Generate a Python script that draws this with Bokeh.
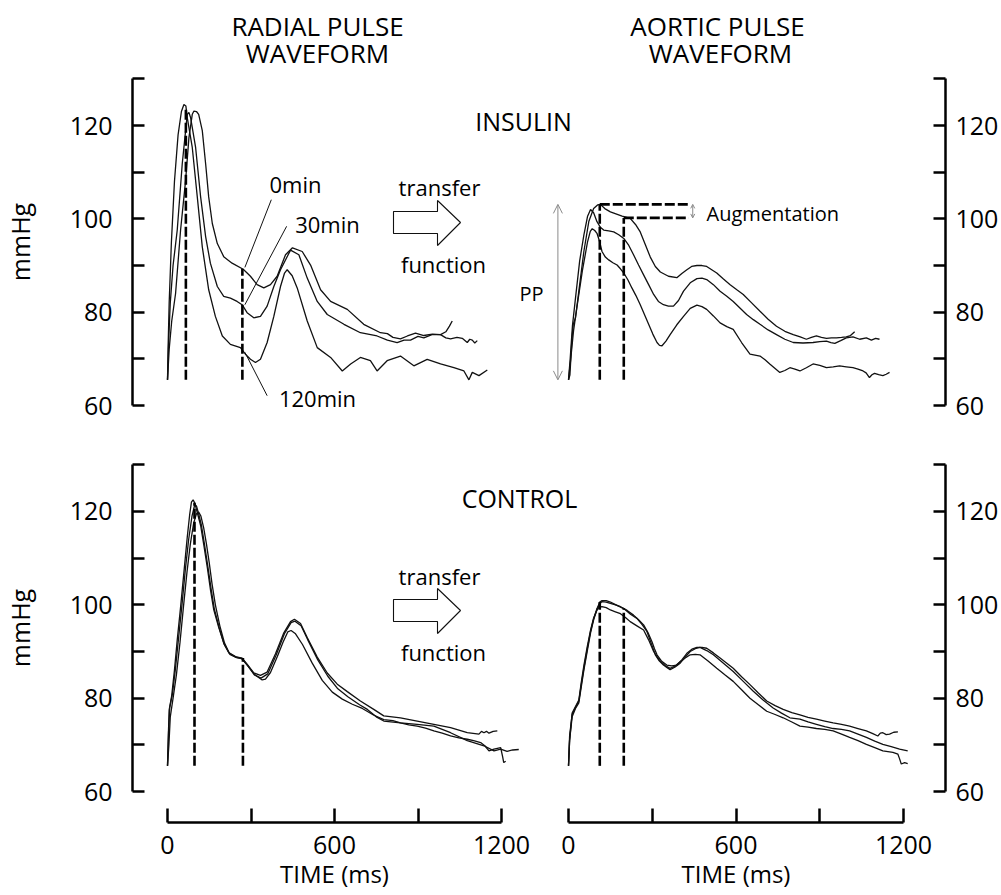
from bokeh.plotting import figure
from bokeh.models import Range1d, LinearAxis, FixedTicker, Arrow, OpenHead
from bokeh.core.properties import value
from bokeh.embed import file_html
from bokeh.resources import INLINE

# ---------------- data: time (ms) / pressure (mmHg) ----------------
# INSULIN, radial pulse waveform
INS_RAD_T_0 = [0, 6, 15, 29, 47, 65, 77, 89, 95, 104, 112, 125, 137, 148, 161, 179, 202, 232, 272, 298,
               322, 346, 370, 394, 424, 449, 484, 514, 550, 586, 646, 705, 765, 790, 810, 837, 862, 891, 921, 952,
               981, 1000, 1013, 1023]
INS_RAD_P_0 = [65.5, 72, 78, 84, 97.6, 108.2, 117.4, 122.4, 123.1, 123.0, 122.4, 118.9, 111.8, 104.7, 99.0, 94.7, 91.9, 90.5, 89.2, 87.7,
               85.9, 85.2, 85.9, 87.7, 92.3, 93.8, 93.0, 90.1, 84.8, 82.3, 80.6, 77.4, 75.6, 75.4, 74.6, 74.3, 74.9, 75.5, 75.0, 75.3,
               75.2, 75.8, 77.0, 78.1]
INS_RAD_T_30 = [0, 5, 10, 20, 35, 53, 71, 77, 83, 101, 119, 137, 154, 179, 202, 226, 250, 268, 286, 310,
                334, 358, 382, 406, 442, 472, 502, 538, 574, 634, 693, 753, 790, 825, 850, 873, 900, 921, 950, 981,
                1000, 1017, 1040, 1059, 1077, 1086, 1095, 1104, 1113]
INS_RAD_P_30 = [65.5, 75, 82, 90, 97.6, 111.8, 122.4, 122.8, 121.7, 115.3, 104.7, 96.2, 90.5, 85.5, 83.4, 83.0, 82.3, 81.6, 79.9, 78.8,
                79.1, 81.3, 85.5, 89.1, 93.3, 92.3, 87.3, 82.3, 79.5, 77.4, 75.6, 74.9, 74.0, 73.5, 74.0, 74.0, 74.8, 74.5, 75.2, 75.2,
                74.5, 74.3, 74.6, 74.4, 73.5, 74.2, 74.0, 73.4, 73.9]
INS_RAD_T_120 = [0, 2, 6, 14, 25, 38, 50, 59, 66, 71, 89, 107, 125, 148, 172, 197, 226, 262, 280, 298,
                 316, 334, 358, 382, 406, 420, 430, 448, 466, 502, 538, 586, 628, 658, 693, 729, 753, 789, 837, 885,
                 933, 981, 1029, 1065, 1083, 1095, 1119, 1149]
INS_RAD_P_120 = [65.5, 72, 82, 95, 108, 118, 123, 124.5, 124.2, 121.7, 115.3, 104.7, 94.0, 84.8, 79.1, 74.9, 73.1, 72.4, 71.0, 69.9,
                 69.2, 69.9, 73.5, 79.1, 85.5, 88.3, 89.1, 87.8, 85.2, 78.1, 72.4, 70.3, 67.4, 68.9, 70.3, 69.6, 67.4, 69.6, 70.6, 68.5,
                 69.9, 68.9, 68.1, 67.4, 65.5, 67.1, 66.4, 67.6]

# INSULIN, aortic pulse waveform
INS_AOR_T_0 = [0, 5, 12, 17, 25, 37, 55, 73, 90, 105, 114, 130, 150, 192, 221, 240, 257, 275, 293, 311,
               329, 358, 388, 406, 424, 441, 460, 478, 495, 513, 531, 555, 579, 603, 626, 656, 686, 715, 745, 775,
               805, 830, 852, 870, 888, 906, 924, 942, 960, 978, 995, 1010, 1025]
INS_AOR_P_0 = [65.5, 66.5, 74, 77.4, 78.8, 84.5, 93.0, 99.5, 102.2, 103.0, 103.1, 102.2, 101.5, 100.6, 100.1, 98.8, 97.2, 94.5, 91.8, 89.8,
               88.6, 87.7, 87.4, 88.3, 89.1, 89.8, 90.0, 90.0, 89.8, 89.1, 88.4, 87.1, 85.9, 84.8, 83.8, 82.0, 80.2, 78.5, 77.0, 75.9,
               75.2, 74.7, 74.2, 74.6, 74.9, 74.6, 74.4, 74.5, 74.5, 74.6, 74.7, 75.0, 75.8]
INS_AOR_T_30 = [0, 6, 14, 25, 40, 55, 68, 79, 90, 102, 114, 126, 144, 162, 180, 198, 216, 233, 251, 269,
                287, 305, 322, 340, 358, 376, 394, 412, 436, 460, 478, 495, 519, 543, 567, 590, 614, 638, 662, 686,
                715, 745, 775, 805, 840, 876, 900, 924, 940, 954, 975, 995, 1019, 1043, 1067, 1085, 1100, 1114]
INS_AOR_P_30 = [65.5, 70, 77, 83, 91, 96.5, 100.5, 102.0, 101.3, 99.4, 98.2, 97.6, 97.4, 97.2, 96.6, 95.8, 94.3, 92.3, 90.1, 88.0,
                85.9, 83.8, 82.3, 81.6, 81.3, 81.3, 82.5, 84.5, 86.3, 87.2, 87.3, 87.0, 85.9, 84.5, 83.4, 82.3, 80.9, 79.5, 78.4, 77.4,
                76.2, 75.2, 74.2, 73.5, 73.4, 73.5, 73.7, 73.8, 73.5, 73.3, 73.9, 74.5, 74.7, 74.2, 74.5, 74.0, 74.4, 74.2]
INS_AOR_T_120 = [0, 8, 18, 30, 50, 68, 78, 85, 94, 102, 111, 120, 132, 144, 159, 174, 186, 198, 213, 227,
                 242, 257, 272, 287, 302, 317, 326, 335, 349, 364, 388, 412, 436, 460, 478, 495, 519, 543, 567, 590,
                 620, 650, 686, 704, 721, 739, 757, 775, 793, 811, 829, 852, 876, 900, 924, 948, 971, 995, 1019, 1037,
                 1055, 1066, 1078, 1087, 1096, 1111, 1126, 1138, 1150]
INS_AOR_P_120 = [65.5, 70, 76, 81, 89, 95, 97.3, 97.9, 97.5, 96.9, 95.2, 93.0, 91.8, 91.2, 90.6, 90.1, 89.3, 88.4, 86.9, 85.2,
                 83.5, 81.6, 79.5, 77.4, 75.3, 73.5, 72.9, 72.8, 73.8, 75.2, 77.3, 79.1, 80.8, 81.5, 81.2, 80.6, 79.2, 77.7, 76.9, 76.3,
                 73.5, 71.0, 70.6, 69.8, 68.9, 68.0, 67.1, 67.5, 68.1, 67.8, 67.4, 68.1, 68.9, 68.6, 68.1, 68.3, 68.5, 68.3, 68.1, 67.8,
                 67.4, 67.0, 66.0, 66.6, 66.9, 66.6, 66.4, 66.7, 67.1]

# CONTROL, radial pulse waveform
CTL_RAD_T_A = [0, 3, 6, 15, 25, 35, 47, 59, 71, 80, 86, 92, 98, 106, 119, 130, 143, 155, 166, 184,
               202, 220, 244, 268, 286, 310, 334, 358, 388, 418, 442, 456, 478, 502, 538, 574, 610, 646, 693, 741,
               777, 837, 897, 957, 1017, 1077, 1119, 1128, 1137, 1146, 1155, 1170, 1185]
CTL_RAD_P_A = [65.5, 72, 77.5, 80.5, 86, 92.5, 99.5, 107, 114.5, 119.5, 122, 122.5, 121.8, 120, 117, 113, 108, 103, 99, 95.2,
               91.8, 89.8, 88.9, 88.6, 87.3, 85.4, 84.9, 85.6, 89.5, 94, 96.4, 96.9, 96.0, 93.0, 88.8, 85.4, 83.0, 81.4, 79.4, 77.6,
               76.2, 75.8, 75.1, 74.4, 73.7, 72.6, 72.3, 72.9, 72.6, 72.9, 72.5, 72.9, 73.0]
CTL_RAD_T_B = [0, 4, 8, 18, 28, 40, 52, 64, 76, 88, 98, 104, 112, 122, 132, 145, 157, 168, 186, 204,
               222, 246, 268, 288, 312, 336, 360, 390, 420, 444, 458, 480, 504, 540, 576, 612, 648, 690, 718, 750,
               777, 837, 897, 957, 1017, 1077, 1137, 1173, 1197, 1220, 1240, 1262]
CTL_RAD_P_B = [65.5, 73, 78, 81, 86, 93, 100, 107.5, 114, 119, 121.5, 121.2, 119.5, 117, 113.3, 108.2, 103.3, 99.2, 95.0, 91.5,
               89.6, 88.8, 88.4, 87.0, 85.0, 84.3, 85.2, 89.2, 93.8, 96.2, 96.5, 95.5, 92.5, 88.2, 84.7, 82.0, 80.3, 78.6, 77.6, 76.0,
               75.1, 74.7, 74.4, 74.0, 72.6, 70.9, 69.8, 68.7, 69.1, 68.6, 68.9, 69.0]
CTL_RAD_T_C = [0, 5, 10, 20, 32, 45, 58, 70, 82, 94, 104, 112, 120, 130, 140, 150, 160, 172, 188, 205,
               224, 248, 268, 290, 314, 340, 352, 370, 395, 415, 432, 444, 460, 485, 520, 556, 592, 628, 664, 700,
               740, 777, 810, 837, 867, 897, 927, 957, 987, 1017, 1047, 1077, 1100, 1125, 1140, 1155, 1173, 1197, 1204, 1208,
               1215]
CTL_RAD_P_C = [65.5, 70, 76, 80, 85, 92, 100, 107, 113, 117.5, 119.5, 119.9, 119, 116.5, 113, 109, 104.5, 100, 95.5, 91.8,
               89.4, 88.7, 88.5, 86.8, 85.0, 83.9, 84.1, 85.5, 89.0, 92.0, 94.2, 94.5, 93.8, 91.5, 87.5, 83.8, 81.3, 79.8, 78.7, 77.8,
               76.4, 75.4, 75.2, 74.7, 74.3, 74.0, 73.6, 73.0, 72.5, 71.9, 71.5, 71.2, 70.9, 70.5, 69.8, 68.7, 69.1, 69.4, 67.5, 66.2,
               66.5]

# CONTROL, aortic pulse waveform
CTL_AOR_T_A = [0, 4, 13, 25, 37, 46, 55, 67, 79, 90, 102, 111, 120, 135, 150, 168, 186, 210, 233, 251,
               269, 285, 299, 308, 317, 334, 352, 370, 388, 406, 424, 442, 460, 478, 495, 519, 543, 567, 590, 620,
               650, 680, 710, 740, 769, 800, 829, 858, 888, 918, 948, 978, 1007, 1037, 1067, 1090, 1108, 1117, 1126, 1138,
               1150, 1165, 1180]
CTL_AOR_P_A = [65.5, 72, 76.5, 78, 79.4, 83, 86.4, 90.5, 94.3, 97, 99.2, 100.2, 100.7, 100.6, 100.3, 100.0, 99.6, 98.8, 97.8, 96.8,
               95.7, 94.0, 92.1, 90.6, 89.3, 87.9, 87.1, 86.9, 87.1, 88.2, 89.6, 90.5, 90.9, 90.9, 90.7, 89.7, 88.6, 87.5, 86.4, 84.6,
               82.9, 81.1, 79.4, 78.4, 77.6, 76.9, 76.4, 75.9, 75.5, 75.1, 74.7, 74.4, 74.0, 73.5, 73.0, 72.4, 71.9, 72.5, 72.6, 72.2,
               72.3, 72.7, 72.8]
CTL_AOR_T_B = [0, 4, 13, 25, 37, 46, 55, 67, 79, 90, 102, 112, 120, 135, 150, 174, 198, 222, 245, 263,
               281, 296, 311, 325, 340, 352, 364, 382, 400, 418, 436, 454, 471, 495, 519, 555, 590, 626, 662, 697,
               733, 763, 793, 829, 858, 888, 918, 948, 978, 1007, 1037, 1067, 1097, 1126, 1156, 1186, 1215]
CTL_AOR_P_B = [65.5, 71, 76, 77.8, 79, 82.5, 86, 90, 94, 96.8, 99, 100.6, 100.9, 100.9, 100.6, 99.9, 99.2, 98, 97.1, 95.8,
               94.3, 91.8, 89.3, 88.0, 87.1, 86.6, 86.1, 86.7, 87.5, 88.8, 90.0, 90.6, 90.9, 90.2, 89.3, 87.5, 85.7, 83.6, 81.5, 79.6,
               77.9, 76.8, 75.8, 75.5, 74.9, 74.4, 73.9, 73.5, 73.3, 73.0, 72.3, 71.6, 70.8, 70.1, 69.6, 69.1, 68.7]
CTL_AOR_T_C = [0, 4, 13, 25, 37, 46, 55, 67, 79, 90, 102, 110, 120, 135, 150, 168, 186, 204, 221, 245,
               269, 287, 305, 317, 329, 346, 364, 382, 400, 418, 436, 454, 471, 501, 531, 560, 590, 620, 650, 680,
               710, 740, 769, 800, 829, 858, 888, 918, 948, 978, 1007, 1037, 1067, 1097, 1126, 1162, 1180, 1186, 1192, 1204,
               1215]
CTL_AOR_P_C = [65.5, 71, 76.8, 78.2, 79.6, 83.5, 87, 91, 94.6, 97.2, 98.9, 99.5, 99.6, 99.4, 98.9, 98.5, 98.1, 97.3, 96.4, 95.5,
               94.6, 92.5, 90.0, 88.9, 87.9, 87.0, 86.4, 86.9, 87.8, 88.6, 89.3, 89.4, 89.3, 87.9, 86.4, 85.0, 83.6, 81.8, 80.0, 78.6,
               77.2, 76.5, 75.8, 74.9, 74.0, 73.8, 73.5, 73.3, 73.0, 72.3, 71.6, 70.9, 70.1, 69.4, 68.7, 68.4, 68.0, 67.0, 65.9, 66.2,
               66.0]

# dashed markers (time ms, top mmHg), all start at the diastolic foot
FOOT = 65.5
INS_RAD_DASH_T = [66, 269]
INS_RAD_DASH_P = [123.5, 89.3]
INS_AOR_DASH_T = [112, 198]
INS_AOR_DASH_P = [103.1, 100.2]
AUG_END_T = 431
CTL_RAD_DASH_T = [97, 271]
CTL_RAD_DASH_P = [121.9, 88.6]
CTL_AOR_DASH_T = [112, 198]
CTL_AOR_DASH_P = [100.6, 99.2]

Y_MAJOR = [60, 80, 100, 120]
Y_MINOR = [70, 90, 110, 130]
X_MAJOR = [0, 600, 1200]
X_MINOR = [300, 900]

FONT = "Open Sans"
INK = "#111111"

# ---------------- figure: one canvas, panels on extra ranges ----------------
p = figure(width=1001, height=895, x_range=Range1d(0, 1001), y_range=Range1d(895, 0),
           x_axis_type=None, y_axis_type=None, toolbar_location=None, output_backend="svg",
           min_border=0, outline_line_color=None)
p.extra_x_ranges = {"L": Range1d(-600.0, 2996.4), "R": Range1d(-2034.6, 1551.0)}
p.extra_y_ranges = {"T": Range1d(-45.0, 146.79), "B": Range1d(37.72, 229.49)}


def curve(t, v, xr, yr):
    p.line(t, v, x_range_name=xr, y_range_name=yr, line_color=INK, line_width=1.3)


for t, v in [(INS_RAD_T_0, INS_RAD_P_0), (INS_RAD_T_30, INS_RAD_P_30), (INS_RAD_T_120, INS_RAD_P_120)]:
    curve(t, v, "L", "T")
for t, v in [(INS_AOR_T_0, INS_AOR_P_0), (INS_AOR_T_30, INS_AOR_P_30), (INS_AOR_T_120, INS_AOR_P_120)]:
    curve(t, v, "R", "T")
for t, v in [(CTL_RAD_T_A, CTL_RAD_P_A), (CTL_RAD_T_B, CTL_RAD_P_B), (CTL_RAD_T_C, CTL_RAD_P_C)]:
    curve(t, v, "L", "B")
for t, v in [(CTL_AOR_T_A, CTL_AOR_P_A), (CTL_AOR_T_B, CTL_AOR_P_B), (CTL_AOR_T_C, CTL_AOR_P_C)]:
    curve(t, v, "R", "B")

DASH = dict(line_color="black", line_width=2.6, line_dash="10 3")
for dt, dp, xr, yr in [(INS_RAD_DASH_T, INS_RAD_DASH_P, "L", "T"), (INS_AOR_DASH_T, INS_AOR_DASH_P, "R", "T"),
                       (CTL_RAD_DASH_T, CTL_RAD_DASH_P, "L", "B"), (CTL_AOR_DASH_T, CTL_AOR_DASH_P, "R", "B")]:
    p.segment(x0=dt, y0=[FOOT] * len(dt), x1=dt, y1=dp, x_range_name=xr, y_range_name=yr, **DASH)
# augmentation levels
p.segment(x0=INS_AOR_DASH_T, y0=INS_AOR_DASH_P, x1=[AUG_END_T] * 2, y1=INS_AOR_DASH_P,
          x_range_name="R", y_range_name="T", **DASH)

GRAY = "#8a8a8a"
p.add_layout(Arrow(x_start=-38, y_start=FOOT, x_end=-38, y_end=INS_AOR_DASH_P[0],
                   x_range_name="R", y_range_name="T", line_color=GRAY, line_width=1,
                   start=OpenHead(size=9, line_color=GRAY, line_width=1),
                   end=OpenHead(size=9, line_color=GRAY, line_width=1)))
p.add_layout(Arrow(x_start=445, y_start=INS_AOR_DASH_P[1], x_end=445, y_end=INS_AOR_DASH_P[0],
                   x_range_name="R", y_range_name="T", line_color=GRAY, line_width=1,
                   start=OpenHead(size=4, line_color=GRAY, line_width=1),
                   end=OpenHead(size=4, line_color=GRAY, line_width=1)))

# leader lines for time labels (radial insulin panel)
p.segment(x0=[373, 428, 358], y0=[104.1, 98.4, 62.1], x1=[278, 278, 278], y1=[89.6, 81.6, 71.4],
          x_range_name="L", y_range_name="T", line_color=INK, line_width=1)

# "transfer function" block arrows (page coordinates)
for dy in [0, 388]:
    ax = [393, 437, 437, 460, 437, 437, 393]
    ay = [211, 211, 200, 222, 245, 233, 233]
    p.patch(ax, [a + dy for a in ay], fill_color="white", line_color=INK, line_width=1.1)

# ---------------- axes ----------------
def axis_style(ax, tick_in, fs="25px"):
    ax.major_tick_in = tick_in
    ax.major_tick_out = 0
    ax.minor_tick_in = tick_in
    ax.minor_tick_out = 0
    ax.axis_line_width = 2.5
    ax.major_tick_line_width = 2.5
    ax.minor_tick_line_width = 2.5
    ax.axis_line_color = "black"
    ax.major_tick_line_color = "black"
    ax.minor_tick_line_color = "black"
    ax.major_label_text_font = FONT
    ax.major_label_text_font_size = fs
    ax.major_label_text_color = "black"
    ax.axis_label_text_font = FONT
    ax.axis_label_text_font_size = "25px"
    ax.axis_label_text_font_style = "normal"
    ax.axis_label_text_color = "black"


for yr in ["T", "B"]:
    la = LinearAxis(x_range_name="L", y_range_name=yr, fixed_location=-125.7, bounds=(60, 130),
                    ticker=FixedTicker(ticks=Y_MAJOR, minor_ticks=Y_MINOR), axis_label="mmHg",
                    major_label_standoff=20, axis_label_standoff=30)
    axis_style(la, 12)
    p.add_layout(la, "left")
    ra = LinearAxis(x_range_name="R", y_range_name=yr, fixed_location=1350.4, bounds=(60, 130),
                    ticker=FixedTicker(ticks=Y_MAJOR, minor_ticks=Y_MINOR), major_label_standoff=10)
    axis_style(ra, 12)
    p.add_layout(ra, "right")

for xr in ["L", "R"]:
    xa = LinearAxis(x_range_name=xr, y_range_name="B", fixed_location=53.36, bounds=(0, 1200),
                    ticker=FixedTicker(ticks=X_MAJOR, minor_ticks=X_MINOR), axis_label="TIME (ms)",
                    major_label_standoff=13, axis_label_standoff=0)
    axis_style(xa, 14)
    xa.axis_label_text_font_size = "24px"
    p.add_layout(xa, "below")

# ---------------- texts (page coordinates) ----------------
def texts(xs, ys, ts, size, align="center"):
    p.text(x=xs, y=ys, text=ts, text_font=value(FONT), text_font_size=size,
           text_align=align, text_baseline="middle", text_color="black")


texts([317, 317, 717, 720], [25, 52, 25, 52], ["RADIAL PULSE", "WAVEFORM", "AORTIC PULSE", "WAVEFORM"], "26px")
texts([523, 519], [120, 497], ["INSULIN", "CONTROL"], "25px")
texts([439, 443, 439, 443], [186, 263, 575, 651], ["transfer", "function", "transfer", "function"], "22px")
texts([295, 327, 317], [183, 223, 397], ["0min", "30min", "120min"], "22px")
texts([706], [213], ["Augmentation"], "20px", align="left")
texts([531], [293], ["PP"], "20px")

open("out.html", "w").write(file_html(p, INLINE))
